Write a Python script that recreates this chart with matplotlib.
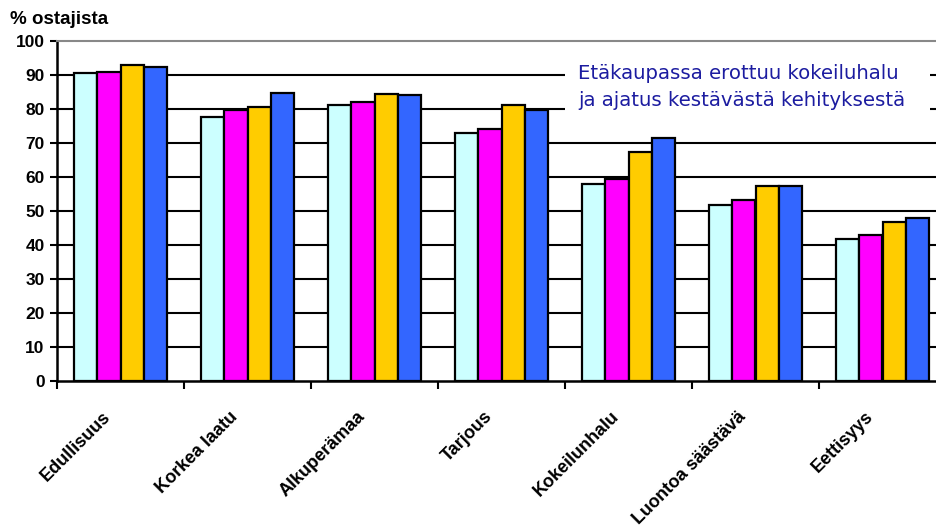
import matplotlib
matplotlib.use("Agg")
import matplotlib.pyplot as plt
import matplotlib.transforms as mtransforms
import numpy as np
from matplotlib.patches import Rectangle

categories = ["Edullisuus", "Korkea laatu", "Alkuperämaa", "Tarjous",
              "Kokeilunhalu", "Luontoa säästävä", "Eettisyys"]
series_1 = [90.5, 77.6, 81.1, 72.8, 58.0, 51.8, 41.9]
series_2 = [91.0, 79.6, 82.0, 74.2, 59.5, 53.2, 42.9]
series_3 = [92.8, 80.5, 84.5, 81.3, 67.4, 57.4, 46.7]
series_4 = [92.3, 84.8, 84.0, 79.8, 71.4, 57.4, 47.8]
colors = ["#CCFFFF", "#FF00FF", "#FFCC00", "#3366FF"]
y_ticks = [0, 10, 20, 30, 40, 50, 60, 70, 80, 90, 100]
note = "Etäkaupassa erottuu kokeiluhalu\nja ajatus kestävästä kehityksestä"

plt.rcParams["font.family"] = ["Liberation Sans", "DejaVu Sans"]

W, H = 936, 528
fig = plt.figure(figsize=(W / 100, H / 100), dpi=100)
# plot area runs past the right edge of the picture, as in the original
ax = fig.add_axes([57 / W, 1 - 381 / H, 889 / W, 340 / H])

x = np.arange(len(categories))
bw = 0.185
for i, (vals, c) in enumerate(zip([series_1, series_2, series_3, series_4], colors)):
    ax.bar(x + (i - 1.5) * bw, vals, bw, color=c, edgecolor="black",
           linewidth=1.6, zorder=3)

ax.set_xlim(-0.5, len(categories) - 0.5)
ax.set_ylim(0, 100)
ax.set_yticks(y_ticks)
ax.set_yticklabels([str(t) for t in y_ticks], fontsize=12.5, fontweight="bold")
ax.tick_params(axis="y", length=5, width=1.5, pad=4)

ax.set_xticks(x)
ax.set_xticklabels(categories, rotation=45, ha="right", va="center",
                   rotation_mode="anchor", fontsize=13, fontweight="bold")
ax.tick_params(axis="x", which="major", length=0, pad=24)
shift = mtransforms.ScaledTranslation(-12 / 100, 0, fig.dpi_scale_trans)
for lbl in ax.get_xticklabels():
    lbl.set_transform(lbl.get_transform() + shift)
ax.set_xticks(np.arange(-0.5, len(categories), 1), minor=True)
ax.tick_params(axis="x", which="minor", length=6, width=1.5)

for t in y_ticks[1:-1]:
    ax.axhline(t, color="black", linewidth=1.5, zorder=1)

ax.spines["left"].set_linewidth(1.8)
ax.spines["bottom"].set_linewidth(1.8)
ax.spines["top"].set_color("#888888")
ax.spines["top"].set_linewidth(1.5)
ax.spines["right"].set_visible(False)

fig.text(10 / W, 1 - 19 / H, "% ostajista", fontsize=13.5, fontweight="bold",
         va="center", ha="left")

fig.patches.append(Rectangle((565 / W, 1 - 117 / H), 365 / W, 57 / H,
                             transform=fig.transFigure, facecolor="white",
                             edgecolor="none", zorder=5))
fig.text(578 / W, 1 - 87 / H, note, fontsize=14.2, color="#1C1CA0",
         family="DejaVu Sans", va="center", ha="left", linespacing=1.55,
         zorder=6)

fig.savefig("out.png", dpi=100)
